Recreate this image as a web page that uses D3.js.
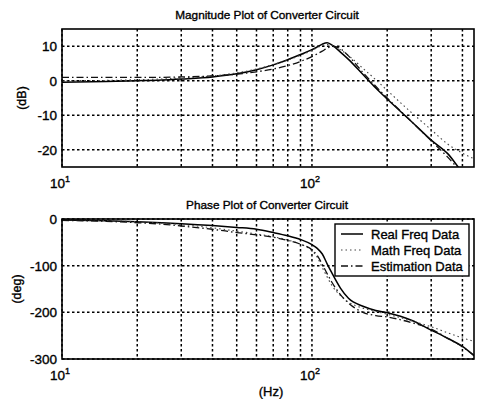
<!DOCTYPE html>
<html>
<head>
<meta charset="utf-8">
<script src="https://cdn.jsdelivr.net/npm/d3@7"></script>
<style>
  body { margin: 0; background: #fff; }
  svg { display: block; font-family: "Liberation Sans", Arial, Helvetica, sans-serif; }
  text { fill: #000; stroke: #000; stroke-width: 0.35px; }
</style>
</head>
<body>
<div id="chart"></div>
<script>
// frequency points (Hz) shared by all curves
const freq = [10, 15, 20, 25, 30, 40, 50, 60, 70, 80, 90, 100, 105, 110, 115, 120, 130, 140, 160, 180, 200, 250, 300, 350, 400, 445];

// magnitude (dB)
const magReal = [-0.4, -0.2, 0, 0.2, 0.5, 1.1, 2.0, 3.2, 4.6, 6.1, 7.6, 9.0, 9.8, 10.6, 11.0, 10.4, 8.3, 6.2, 1.8, -2.1, -5.3, -11.8, -17.2, -21.2, -26.5, -29.5];
const magMath = [0, 0.1, 0.3, 0.5, 0.8, 1.4, 2.3, 3.4, 4.7, 6.0, 7.4, 8.8, 9.6, 10.2, 10.5, 10.3, 9.0, 7.3, 3.6, 0.3, -2.8, -9.2, -14.2, -18.4, -21.0, -22.6];
const magEst  = [1.0, 1.0, 1.0, 1.0, 1.1, 1.4, 1.9, 2.6, 3.4, 4.4, 5.6, 7.0, 7.8, 8.6, 9.4, 10.0, 9.3, 7.2, 2.4, -1.6, -5.0, -11.8, -17.4, -22.2, -26.8, -30];

// phase (deg)
const phReal = [-2, -4, -6, -8, -10, -14, -18, -22, -29, -36, -44, -55, -63, -75, -96, -115, -148, -170, -187, -196, -201, -217, -238, -256, -273, -293];
const phMath = [-1, -3, -6, -9, -12, -19, -26, -32, -38, -45, -54, -68, -82, -104, -124, -142, -164, -178, -191, -198, -204, -218, -231, -244, -255, -262];
const phEst  = [-3, -5, -8, -11, -15, -22, -29, -34, -39, -46, -54, -66, -78, -97, -117, -135, -162, -180, -200, -207, -210, -222, -236, -256, -274, -292];

const seriesNames = ["Real Freq Data", "Math Freq Data", "Estimation Data"];
const seriesStyle = [
  { color: "#000", width: 1.5, dash: null },
  { color: "#444", width: 1.1, dash: "1.5,3" },
  { color: "#111", width: 1.3, dash: "7,3,1.5,3" }
];

const W = 478, H = 399;
const svg = d3.select("#chart").append("svg").attr("width", W).attr("height", H);

const x = d3.scaleLog().domain([10, 445]).range([62, 474]);

function panel(opts) {
  const y = d3.scaleLinear().domain(opts.yDomain).range([opts.bottom, opts.top]);
  const g = svg.append("g");
  const id = "clip" + opts.key;
  svg.append("clipPath").attr("id", id)
    .append("rect").attr("x", 62).attr("y", opts.top).attr("width", 412).attr("height", opts.bottom - opts.top);

  // grid
  g.append("g").selectAll("line").data(x.ticks()).enter().append("line")
    .attr("x1", d => x(d)).attr("x2", d => x(d))
    .attr("y1", opts.top).attr("y2", opts.bottom)
    .attr("stroke", "#000").attr("stroke-width", 1.5).attr("stroke-dasharray", "2.5,2.5");
  g.append("g").selectAll("line").data(opts.yTicks).enter().append("line")
    .attr("x1", 62).attr("x2", 474)
    .attr("y1", d => y(d)).attr("y2", d => y(d))
    .attr("stroke", "#000").attr("stroke-width", 1.5).attr("stroke-dasharray", "2.5,2.5");

  // curves
  const line = d3.line().x((d, i) => x(freq[i])).y(d => y(d)).curve(d3.curveMonotoneX);
  opts.series.forEach((s, k) => {
    g.append("path").datum(s)
      .attr("clip-path", `url(#${id})`)
      .attr("d", line)
      .attr("fill", "none")
      .attr("stroke", seriesStyle[k].color)
      .attr("stroke-width", seriesStyle[k].width)
      .attr("stroke-dasharray", seriesStyle[k].dash);
  });

  // frame
  g.append("rect").attr("x", 62).attr("y", opts.top).attr("width", 412).attr("height", opts.bottom - opts.top)
    .attr("fill", "none").attr("stroke", "#000").attr("stroke-width", 1.6);

  // y tick labels
  g.append("g").selectAll("text").data(opts.yTicks).enter().append("text")
    .attr("x", 57).attr("y", d => y(d) + 5)
    .attr("text-anchor", "end").attr("font-size", 13.5)
    .text(d => d);

  // x tick labels (10^n)
  [10, 100].forEach(v => {
    const t = g.append("text").attr("x", x(v) - 2).attr("y", opts.bottom + 21)
      .attr("text-anchor", "middle").attr("font-size", 13.5);
    t.append("tspan").text("10");
    t.append("tspan").attr("dy", -6).attr("font-size", 9).text(Math.round(Math.log10(v)));
  });

  // title
  g.append("text").attr("x", 267).attr("y", opts.top - 10)
    .attr("text-anchor", "middle").attr("font-size", 11.8)
    .text(opts.title);

  // y label
  g.append("text")
    .attr("transform", `translate(${opts.ylabX},${(opts.top + opts.bottom) / 2}) rotate(-90)`)
    .attr("text-anchor", "middle").attr("font-size", 12.5)
    .text(opts.ylabel);
  return { g, y };
}

panel({
  key: "mag", top: 29, bottom: 167, yDomain: [-25, 15], yTicks: [10, 0, -10, -20],
  series: [magReal, magMath, magEst],
  title: "Magnitude Plot of Converter Circuit", ylabel: "(dB)", ylabX: 26
});

panel({
  key: "ph", top: 219, bottom: 359, yDomain: [-300, 0], yTicks: [0, -100, -200, -300],
  series: [phReal, phMath, phEst],
  title: "Phase Plot of Converter Circuit", ylabel: "(deg)", ylabX: 21
});

// x label
svg.append("text").attr("x", 271).attr("y", 396)
  .attr("text-anchor", "middle").attr("font-size", 13).text("(Hz)");

// legend
const leg = svg.append("g").attr("transform", "translate(335,224)");
leg.append("rect").attr("width", 134).attr("height", 52)
  .attr("fill", "#fff").attr("stroke", "#000").attr("stroke-width", 1.4);
seriesNames.forEach((name, k) => {
  const yy = 10 + k * 16;
  leg.append("line").attr("x1", 6).attr("x2", 28).attr("y1", yy).attr("y2", yy)
    .attr("stroke", seriesStyle[k].color)
    .attr("stroke-width", seriesStyle[k].width)
    .attr("stroke-dasharray", seriesStyle[k].dash);
  leg.append("text").attr("x", 36).attr("y", yy + 4.5)
    .attr("font-size", 13).text(name);
});
</script>
</body>
</html>
